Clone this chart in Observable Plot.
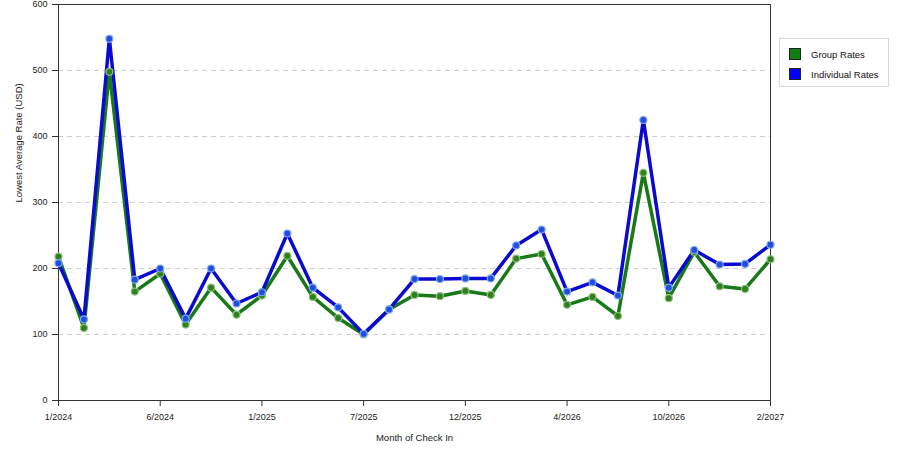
<!DOCTYPE html>
<html>
<head>
<meta charset="utf-8">
<script src="https://cdn.jsdelivr.net/npm/d3@7"></script>
<script src="https://cdn.jsdelivr.net/npm/@observablehq/plot@0.6"></script>
<style>
  html, body { margin: 0; padding: 0; background: #fff; }
  #wrap { position: relative; width: 900px; height: 450px; }
  #legend {
    position: absolute; left: 779px; top: 38px; width: 110px; height: 49px;
    border: 1px solid #d8d8d8; background: #fff;
    font-family: "Liberation Sans", Arial, sans-serif; font-size: 9.5px; color: #111;
    box-sizing: border-box;
  }
  #legend .row { position: absolute; left: 9px; display: flex; align-items: center; }
  #legend .sw { width: 12px; height: 12px; margin-right: 10px; box-sizing: border-box; border: 1px solid #222; }
</style>
</head>
<body>
<div id="wrap">
  <div id="chart"></div>
  <div id="legend"></div>
</div>
<script>
const months = ["1/2024","2/2024","3/2024","5/2024","6/2024","7/2024","9/2024","11/2024",
  "1/2025","2/2025","4/2025","5/2025","7/2025","8/2025","9/2025","11/2025",
  "12/2025","1/2026","2/2026","3/2026","4/2026","5/2026","7/2026","8/2026",
  "10/2026","11/2026","12/2026","1/2027","2/2027"];
const groupRates = [218,110,498,165,192,115,171,130,159,219,157,125,100,138,160,158,166,160,215,222,145,157,128,345,155,225,173,169,214];
const individualRates = [208,123,548,183,200,124,200,147,164,253,171,141,101,138,184,184,185,185,235,259,165,179,159,425,171,228,206,207,236];
const xTicks = ["1/2024","6/2024","1/2025","7/2025","12/2025","4/2026","10/2026","2/2027"];
const yTicks = [0,100,200,300,400,500,600];
const gridTicks = [100,200,300,400,500];
const seriesNames = ["Group Rates","Individual Rates"];
const lineColors = ["#177a17","#0a0ad0"];
const dotFill = ["#2f7f1f","#1f4fe0"];
const dotStroke = ["#8fbf7f","#7fa8f0"];
const swatchColors = ["#0f7f0f","#0000ff"];

const rows = [];
months.forEach((m, i) => {
  rows.push({month: m, value: groupRates[i], series: seriesNames[0]});
  rows.push({month: m, value: individualRates[i], series: seriesNames[1]});
});
const g = rows.filter(d => d.series === seriesNames[0]);
const ind = rows.filter(d => d.series === seriesNames[1]);

const font = "'Liberation Sans', Arial, sans-serif";
const chart = Plot.plot({
  width: 900,
  height: 450,
  marginLeft: 58,
  marginRight: 130,
  marginTop: 4,
  marginBottom: 50,
  style: {fontFamily: font, fontSize: "9px", color: "#222", background: "#fff"},
  x: {type: "point", domain: months, padding: 0, round: false, label: null},
  y: {domain: [0, 600], label: null},
  marks: [
    Plot.gridY(gridTicks, {stroke: "#cfcfcf", strokeOpacity: 1, strokeDasharray: "5,4"}),
    Plot.frame({stroke: "#333"}),
    Plot.axisX(xTicks, {tickSize: 6, tickPadding: 7, stroke: "#333", fontSize: 9, label: null}),
    Plot.axisY(yTicks, {tickSize: 6, tickPadding: 5, stroke: "#333", fontSize: 9, label: null}),
    Plot.text(["Month of Check In"], {frameAnchor: "bottom", dy: 40, fontSize: 9.5, fill: "#222", style: "letter-spacing:0.3px"}),
    Plot.text(["Lowest Average Rate (USD)"], {frameAnchor: "left", dx: -40, rotate: -90, fontSize: 9.5, fill: "#222"}),
    Plot.line(g, {x: "month", y: "value", stroke: lineColors[0], strokeWidth: 3.5}),
    Plot.line(ind, {x: "month", y: "value", stroke: lineColors[1], strokeWidth: 3.5}),
    Plot.dot(g, {x: "month", y: "value", r: 3.5, fill: dotFill[0], stroke: dotStroke[0], strokeWidth: 1.2}),
    Plot.dot(ind, {x: "month", y: "value", r: 3.5, fill: dotFill[1], stroke: dotStroke[1], strokeWidth: 1.2})
  ]
});
document.getElementById("chart").appendChild(chart);

const legend = document.getElementById("legend");
seriesNames.forEach((name, i) => {
  const row = document.createElement("div");
  row.className = "row";
  row.style.top = (9 + i * 20) + "px";
  const sw = document.createElement("div");
  sw.className = "sw";
  sw.style.background = swatchColors[i];
  const label = document.createElement("span");
  label.textContent = name;
  row.appendChild(sw);
  row.appendChild(label);
  legend.appendChild(row);
});
</script>
</body>
</html>
